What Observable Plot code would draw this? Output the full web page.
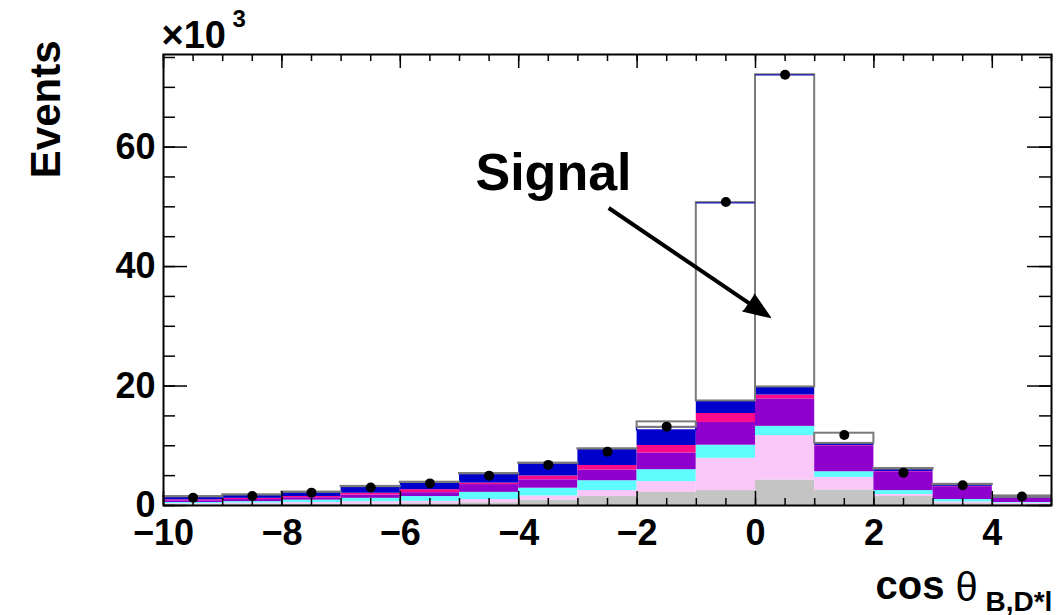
<!DOCTYPE html>
<html><head><meta charset="utf-8">
<script src="https://cdn.jsdelivr.net/npm/d3@7"></script>
<script src="https://cdn.jsdelivr.net/npm/@observablehq/plot@0.6"></script>
<style>body{margin:0;background:#fff}</style>
</head><body><div id="chart"></div>
<script>
// Bin lower edges (width 1)
const binLow = [-10,-9,-8,-7,-6,-5,-4,-3,-2,-1,0,1,2,3,4];
// Stacked components, in units of 10^3 events (bottom to top)
const grayV    = [0.1,0.15,0.2,0.25,0.3,0.45,0.9,1.5,2.2,2.5,4.25,2.6,1.5,0.3,0.15];
const pinkV    = [0.2,0.25,0.3,0.4,0.4,0.55,0.7,1.0,1.8,5.4,7.45,2.1,0.35,0.3,0.25];
const cyanV    = [0.2,0.25,0.4,0.55,0.8,1.2,1.3,1.65,2.0,2.2,1.55,0.95,0.65,0.4,0.1];
const purpleV  = [0.3,0.35,0.4,0.55,0.65,1.3,1.4,1.8,2.8,3.8,4.6,4.35,3.15,2.15,0.7];
const magentaV = [0.15,0.2,0.2,0.3,0.5,0.25,0.65,0.75,1.25,1.5,0.65,0.05,0.05,0.05,0.05];
const blueV    = [0.5,0.55,0.7,1.1,1.2,1.55,2.1,2.75,2.5,2.1,1.35,0.35,0.4,0.3,0.15];
const otherV   = [0,0,0,0,0,0,0,0,0.55,0,0,0,0,0,0];
const signalV  = [0.05,0.05,0.05,0.05,0.05,0.05,0.05,0.05,0.9,33.2,52.25,1.7,0.1,0.05,0.2];
// Data points
const dataV    = [1.3,1.6,2.15,3.0,3.7,5.0,6.8,9.0,13.2,50.8,72.1,11.8,5.5,3.4,1.5];

const components = ["gray","pink","cyan","purple","magenta","blue","other","signal"];
const compColors = ["#c4c4c4","#f9c8f8","#5ffdfd","#9000cc","#ff0a8a","#0000cc","#ffffff","#ffffff"];

// Tick values
const xMajorTicks = [-10,-8,-6,-4,-2,0,2,4];
const xMinorTicks = d3.range(-10, 5.001, 0.5);
const yMajorTicks = [0,20,40,60];
const yMinorTicks = d3.range(0, 75.1, 5);

// Annotation ("Signal" with arrow), data coordinates
const signalLabel = [{x: -4.73, y: 52.8, text: "Signal"}];
const signalArrow = [{x1: -2.48, y1: 49.8, x2: 0.02, y2: 33.0, tx: 0.25, ty: 31.5}];

const rows = [];
binLow.forEach((lo, i) => {
  let base = 0;
  const vals = [grayV[i], pinkV[i], cyanV[i], purpleV[i], magentaV[i], blueV[i], otherV[i], signalV[i]];
  vals.forEach((v, j) => {
    rows.push({comp: components[j], x1: lo, x2: lo + 1, y1: base, y2: base + v, color: compColors[j]});
    base += v;
  });
});
const points = binLow.map((lo, i) => ({x: lo + 0.5, y: dataV[i]}));
const peakTops = rows.filter(d => d.comp === "signal" && d.y2 - d.y1 > 20);

const W = 1064, H = 615, mT = 54, mB = 110, mL = 163, mR = 13;
const PH = H - mT - mB, PW = W - mL - mR;
const font = "'Liberation Sans', Arial, Helvetica, sans-serif";

const chart = Plot.plot({
  width: W, height: H,
  marginTop: mT, marginBottom: mB, marginLeft: mL, marginRight: mR,
  style: {fontFamily: font, fontWeight: "bold", fontSize: "36px", background: "#fff", overflow: "visible"},
  x: {domain: [-10, 5], axis: null},
  y: {domain: [0, 75.5], axis: null},
  color: {type: "identity"},
  marks: [
    Plot.rect(rows.filter(d => d.comp !== "other" && d.comp !== "signal"),
      {x1: "x1", x2: "x2", y1: "y1", y2: "y2", fill: "color"}),
    Plot.rect(rows.filter(d => d.comp === "other" && d.y2 > d.y1),
      {x1: "x1", x2: "x2", y1: "y1", y2: "y2", fill: "#fff", stroke: "#0000cc", strokeWidth: 1.5}),
    Plot.rect(rows.filter(d => d.comp === "signal"),
      {x1: "x1", x2: "x2", y1: "y1", y2: "y2", fill: "#fff", stroke: "#7a7a7a", strokeWidth: 2}),
    Plot.ruleY(peakTops, {y: "y2", x1: "x1", x2: "x2", stroke: "#3030b0", strokeWidth: 1.5}),
    Plot.dot(points, {x: "x", y: "y", r: 5, fill: "#000"}),
    // arrow
    Plot.link(signalArrow, {x1: "x1", y1: "y1", x2: "x2", y2: "y2", stroke: "#000", strokeWidth: 4}),
    Plot.vector(signalArrow, {x: "tx", y: "ty", length: 26, rotate: 124, shape: "spike", r: 10, anchor: "end", fill: "#000", stroke: "#000"}),
    Plot.text(signalLabel, {x: "x", y: "y", text: "text", textAnchor: "start", lineAnchor: "bottom", fontSize: 52, fill: "#000"}),
    // ticks (inside frame)
    Plot.tickX(xMinorTicks, {x: d => d, insetTop: PH - 7, stroke: "#000", strokeWidth: 1.5}),
    Plot.tickX(xMajorTicks, {x: d => d, insetTop: PH - 14, stroke: "#000", strokeWidth: 1.5}),
    Plot.tickX(xMinorTicks, {x: d => d, insetBottom: PH - 7, stroke: "#000", strokeWidth: 1.5}),
    Plot.tickX(xMajorTicks, {x: d => d, insetBottom: PH - 14, stroke: "#000", strokeWidth: 1.5}),
    Plot.tickY(yMinorTicks, {y: d => d, insetRight: PW - 12, stroke: "#000", strokeWidth: 1.5}),
    Plot.tickY(yMajorTicks, {y: d => d, insetRight: PW - 24, stroke: "#000", strokeWidth: 1.5}),
    Plot.tickY(yMinorTicks, {y: d => d, insetLeft: PW - 12, stroke: "#000", strokeWidth: 1.5}),
    Plot.tickY(yMajorTicks, {y: d => d, insetLeft: PW - 24, stroke: "#000", strokeWidth: 1.5}),
    Plot.frame({stroke: "#000", strokeWidth: 2}),
    // tick labels
    Plot.axisX(xMajorTicks, {anchor: "bottom", tickSize: 0, tickPadding: 14, fontSize: 36, fontWeight: "bold", fill: "#000", label: null}),
    Plot.axisY(yMajorTicks, {anchor: "left", tickSize: 0, tickPadding: 8, fontSize: 36, fontWeight: "bold", fill: "#000", label: null}),
    // axis titles
    Plot.text(["Events"], {frameAnchor: "top-left", dx: -104, dy: -14, rotate: -90, textAnchor: "end", lineAnchor: "bottom", fontSize: 42, fill: "#000"}),
    Plot.text(["\u00d710"], {frameAnchor: "top-left", dx: -2, dy: -7, textAnchor: "start", lineAnchor: "bottom", fontSize: 38, fill: "#000"}),
    Plot.text(["3"], {frameAnchor: "top-left", dx: 69, dy: -28, textAnchor: "start", lineAnchor: "bottom", fontSize: 24, fill: "#000"}),
    Plot.text(["cos"], {frameAnchor: "bottom-right", dx: -176, dy: 93, textAnchor: "start", lineAnchor: "bottom", fontSize: 40, fill: "#000"}),
    Plot.text(["\u03b8"], {frameAnchor: "bottom-right", dx: -96, dy: 95, textAnchor: "start", lineAnchor: "bottom", fontSize: 40, fontWeight: "normal", fill: "#000"}),
    Plot.text(["B,D*l"], {frameAnchor: "bottom-right", dx: -66, dy: 105, textAnchor: "start", lineAnchor: "bottom", fontSize: 28, fill: "#000"})
  ]
});
document.getElementById("chart").appendChild(chart);
</script>
</body></html>
